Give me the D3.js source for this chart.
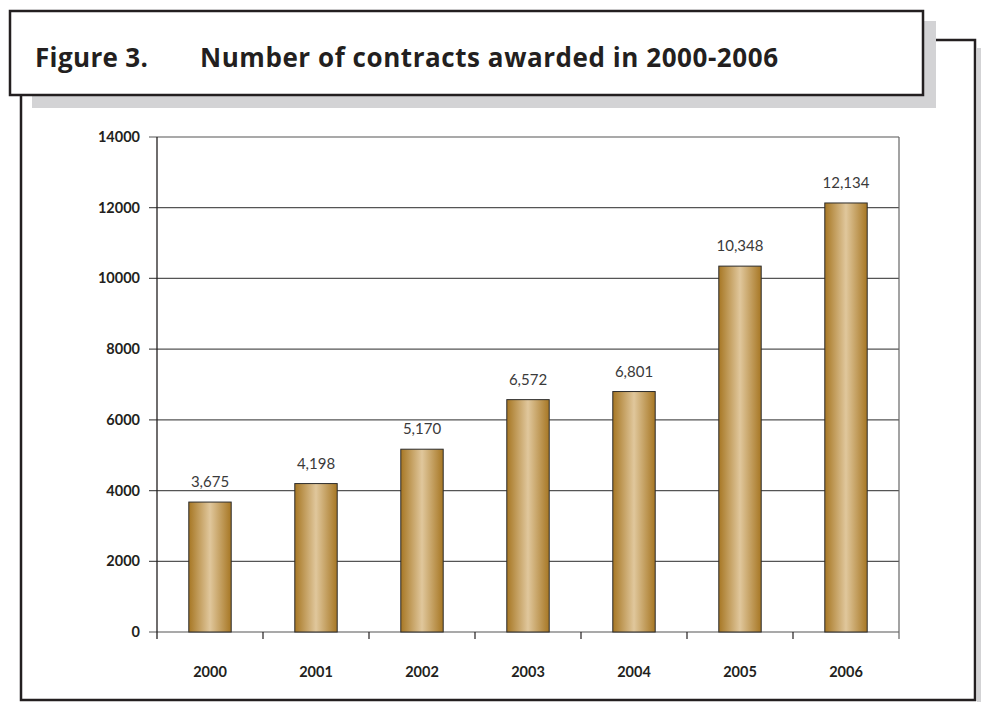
<!DOCTYPE html>
<html><head><meta charset="utf-8">
<script src="https://cdn.jsdelivr.net/npm/d3@7"></script>
<style>
html,body{margin:0;padding:0;background:#fff;}
svg{display:block;}
</style></head>
<body>
<svg id="chart" width="981" height="702"></svg>
<script>
const years = ["2000","2001","2002","2003","2004","2005","2006"];
const contracts = [3675, 4198, 5170, 6572, 6801, 10348, 12134];
const yTicks = [0, 2000, 4000, 6000, 8000, 10000, 12000, 14000];
const titleNumber = "Figure 3.";
const titleText = "Number of contracts awarded in 2000-2006";

const svg = d3.select("#chart");
const font = "Lato, 'Open Sans', sans-serif";
const titleFont = "'Open Sans', Lato, sans-serif";

// frame shadows
svg.append("rect").attr("x",977).attr("y",48).attr("width",4).attr("height",654).attr("fill","#d3d3d5");
// outer frame
svg.append("path")
  .attr("d","M21,95 L21,700 L975,700 L975,40 L936,40")
  .attr("fill","none").attr("stroke","#231f20").attr("stroke-width",2.5);
// title shadow
svg.append("rect").attr("x",32).attr("y",21).attr("width",904).attr("height",87).attr("fill","#d3d3d5");
// title box
svg.append("rect").attr("x",10).attr("y",11).attr("width",913).attr("height",84)
  .attr("fill","#fff").attr("stroke","#231f20").attr("stroke-width",2.5);
svg.append("text").attr("x",35).attr("y",67).text(titleNumber)
  .attr("font-family",titleFont).attr("font-weight","bold").attr("font-size",26).attr("fill","#231f20")
  .attr("textLength",113).attr("lengthAdjust","spacing");
svg.append("text").attr("x",200).attr("y",67).text(titleText)
  .attr("font-family",titleFont).attr("font-weight","bold").attr("font-size",26).attr("fill","#231f20")
  .attr("textLength",578).attr("lengthAdjust","spacing");

// plot
const L = 157, R = 899, T = 137, B = 632;
const x = d3.scaleBand().domain(years).range([L, R]).paddingInner(0.6).paddingOuter(0.3);
const xb = d3.scaleBand().domain(years).range([L, R]);
const y = d3.scaleLinear().domain([0, 14000]).range([B, T]);

const defs = svg.append("defs");
const grad = defs.append("linearGradient").attr("id","gold").attr("x1","0%").attr("x2","100%").attr("y1","0%").attr("y2","0%");
grad.append("stop").attr("offset","0%").attr("stop-color","#a77724");
grad.append("stop").attr("offset","50%").attr("stop-color","#e0c79c");
grad.append("stop").attr("offset","100%").attr("stop-color","#a77724");

// gridlines
svg.append("g").selectAll("line").data(yTicks).join("line")
  .attr("x1", L-8).attr("x2", R).attr("y1", d=>y(d)).attr("y2", d=>y(d))
  .attr("stroke","#555").attr("stroke-width",1.2);
// right border
svg.append("line").attr("x1",R).attr("x2",R).attr("y1",T).attr("y2",B+7).attr("stroke","#666").attr("stroke-width",1.2);
// y axis line
svg.append("line").attr("x1",L).attr("x2",L).attr("y1",T).attr("y2",B+7).attr("stroke","#231f20").attr("stroke-width",1.3);
// x tick marks at boundaries
const bounds = years.map(d=>xb(d)).slice(1);
svg.append("g").selectAll("line").data(bounds).join("line")
  .attr("x1",d=>d).attr("x2",d=>d).attr("y1",B).attr("y2",B+7)
  .attr("stroke","#231f20").attr("stroke-width",1.2);

// y labels
svg.append("g").selectAll("text").data(yTicks).join("text")
  .attr("x",140).attr("y",d=>y(d)+5).attr("text-anchor","end")
  .attr("font-family",font).attr("font-weight","bold").attr("font-size",14.5).attr("fill","#231f20")
  .text(d=>d);

// bars
svg.append("g").selectAll("rect").data(contracts).join("rect")
  .attr("x",(d,i)=>x(years[i])).attr("width",x.bandwidth())
  .attr("y",d=>y(d)).attr("height",d=>B-y(d))
  .attr("fill","url(#gold)").attr("stroke","#2b2b2b").attr("stroke-width",1);

// value labels
const fmt = d3.format(",");
svg.append("g").selectAll("text").data(contracts).join("text")
  .attr("x",(d,i)=>x(years[i])+x.bandwidth()/2).attr("y",d=>y(d)-15)
  .attr("text-anchor","middle")
  .attr("font-family",font).attr("font-size",15).attr("fill","#3a3a3a")
  .text(d=>fmt(d));

// x labels
svg.append("g").selectAll("text").data(years).join("text")
  .attr("x",d=>xb(d)+xb.bandwidth()/2).attr("y",677).attr("text-anchor","middle")
  .attr("font-family",font).attr("font-weight","bold").attr("font-size",14.5).attr("fill","#231f20")
  .text(d=>d);
</script>
</body></html>
